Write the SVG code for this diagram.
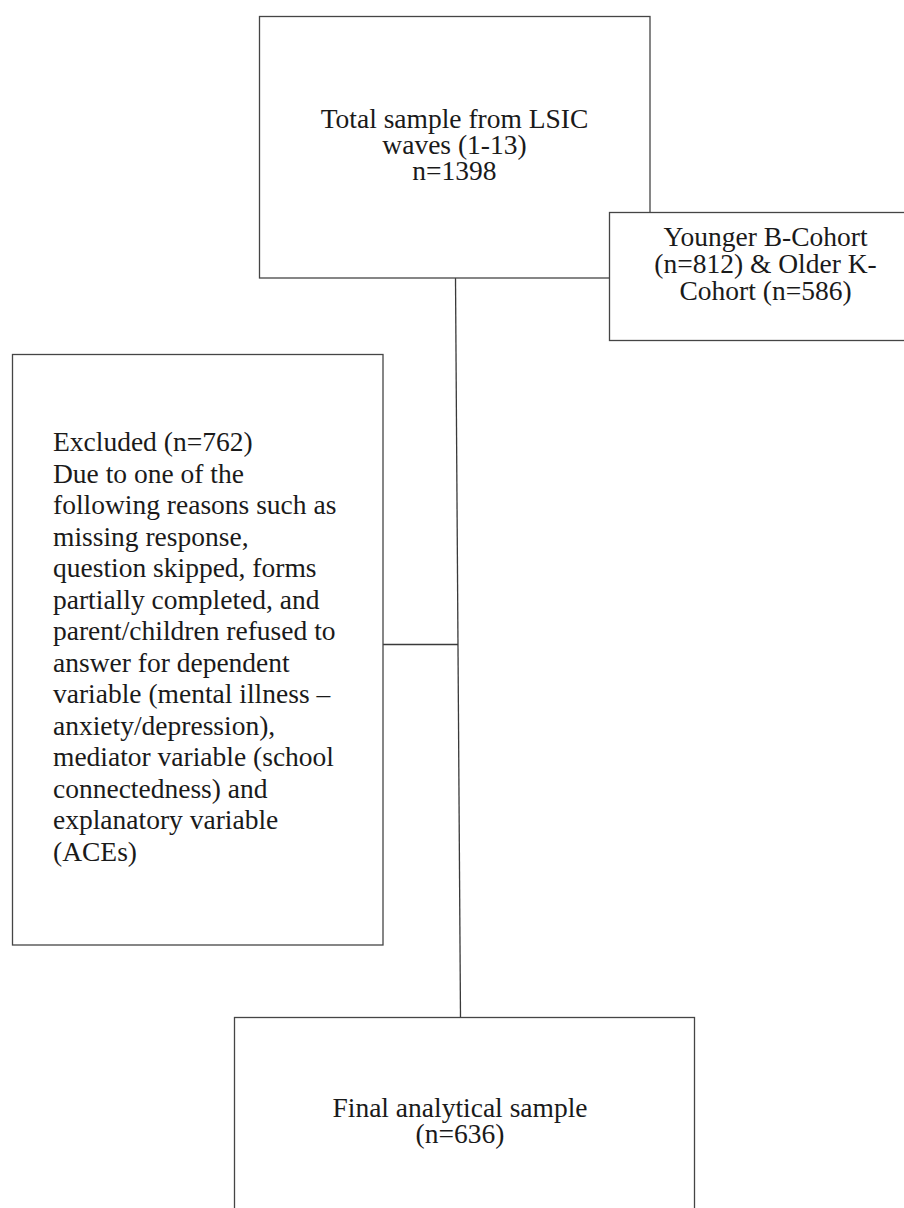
<svg xmlns="http://www.w3.org/2000/svg" width="904" height="1208" viewBox="0 0 904 1208">
<style>
.box{fill:#ffffff;stroke:#454545;stroke-width:1.3}
.ln{stroke:#3a3a3a;stroke-width:1.3;fill:none}
text{font-family:"Liberation Serif","Times New Roman",serif;font-size:27.5px;fill:#1a1a1a}
.c{text-anchor:middle}
</style>
<rect x="0" y="0" width="904" height="1208" fill="#ffffff"/>
<g id="connectors">
<line class="ln" x1="455.5" y1="278" x2="460.5" y2="1017"/>
<line class="ln" x1="383" y1="644.5" x2="458" y2="644.5"/>
</g>
<g id="total">
<rect class="box" x="259.5" y="16.5" width="390.5" height="261.5"/>
<text class="c" x="454.5" y="128">Total sample from LSIC</text>
<text class="c" x="454.5" y="154">waves (1-13)</text>
<text class="c" x="454.5" y="180">n=1398</text>
</g>
<g id="cohorts">
<rect class="box" x="609.5" y="212.5" width="312" height="128"/>
<text class="c" x="765.5" y="246">Younger B-Cohort</text>
<text class="c" x="765.5" y="273">(n=812) &amp; Older K-</text>
<text class="c" x="765.5" y="300">Cohort (n=586)</text>
</g>
<g id="excluded">
<rect class="box" x="12.5" y="354.5" width="370.5" height="590.5"/>
<text x="53" y="451">Excluded (n=762)</text>
<text x="53" y="482.5">Due to one of the</text>
<text x="53" y="514">following reasons such as</text>
<text x="53" y="545.5">missing response,</text>
<text x="53" y="577">question skipped, forms</text>
<text x="53" y="608.5">partially completed, and</text>
<text x="53" y="640">parent/children refused to</text>
<text x="53" y="671.5">answer for dependent</text>
<text x="53" y="703">variable (mental illness –</text>
<text x="53" y="734.5">anxiety/depression),</text>
<text x="53" y="766">mediator variable (school</text>
<text x="53" y="797.5">connectedness) and</text>
<text x="53" y="829">explanatory variable</text>
<text x="53" y="860.5">(ACEs)</text>
</g>
<g id="final">
<rect class="box" x="234.5" y="1017.5" width="460" height="200"/>
<text class="c" x="460" y="1117">Final analytical sample</text>
<text class="c" x="460" y="1143">(n=636)</text>
</g>
</svg>
